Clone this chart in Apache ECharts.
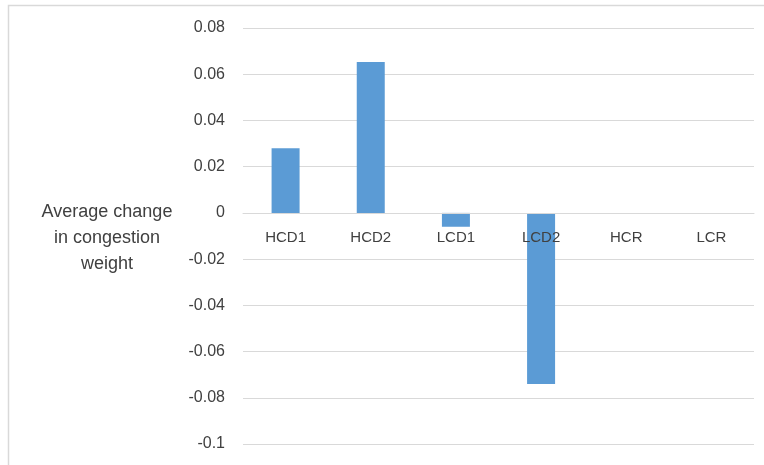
<!DOCTYPE html>
<html>
<head>
<meta charset="utf-8">
<script src="https://cdn.jsdelivr.net/npm/echarts@6/dist/echarts.min.js"></script>
<style>
  html, body { margin: 0; padding: 0; background: #fff; }
  #main { width: 764px; height: 465px; }
</style>
</head>
<body>
<div id="main"></div>
<script>
  var categories = ['HCD1', 'HCD2', 'LCD1', 'LCD2', 'HCR', 'LCR'];
  var values = [0.028, 0.0653, -0.006, -0.074, 0, 0];
  var yTicks = { min: -0.1, max: 0.08, interval: 0.02 };
  var yTitle = 'Average change\nin congestion\nweight';

  var chart = echarts.init(document.getElementById('main'));
  var option = {
    backgroundColor: '#fff',
    textStyle: { fontFamily: 'Liberation Sans, Arial, sans-serif' },
    graphic: [{
      type: 'rect',
      shape: { x: 8.5, y: 5.5, width: 800, height: 500 },
      style: { fill: 'none', stroke: '#d9d9d9', lineWidth: 1.5 },
      silent: true
    }, {
      // axis title, Excel-style horizontal text left of the axis
      type: 'text',
      x: 107,
      y: 238,
      style: {
        text: yTitle,
        fill: '#404040',
        font: '18px Liberation Sans, Arial, sans-serif',
        lineHeight: 26,
        align: 'center',
        verticalAlign: 'middle'
      },
      silent: true
    }],
    grid: { left: 243, right: 10, top: 28, bottom: 21, outerBoundsMode: 'none', containLabel: false },
    xAxis: {
      type: 'category',
      data: categories,
      position: 'bottom',
      offset: -231,
      z: 5,
      axisLine: { onZero: false, lineStyle: { color: '#d9d9d9' } },
      axisTick: { show: false },
      axisLabel: { color: '#404040', fontSize: 15, margin: 17 }
    },
    yAxis: {
      type: 'value',
      min: yTicks.min,
      max: yTicks.max,
      interval: yTicks.interval,
      axisLine: { show: false },
      axisTick: { show: false },
      axisLabel: {
        color: '#404040', fontSize: 16, margin: 18,
        formatter: function (v) { return String(Math.round(v * 100) / 100); }
      },
      splitLine: { lineStyle: { color: '#d9d9d9' } }
    },
    series: [{
      type: 'bar',
      data: values,
      barWidth: 28,
      itemStyle: { color: '#5b9bd5' }
    }]
  };
  chart.setOption(option);
</script>
</body>
</html>
